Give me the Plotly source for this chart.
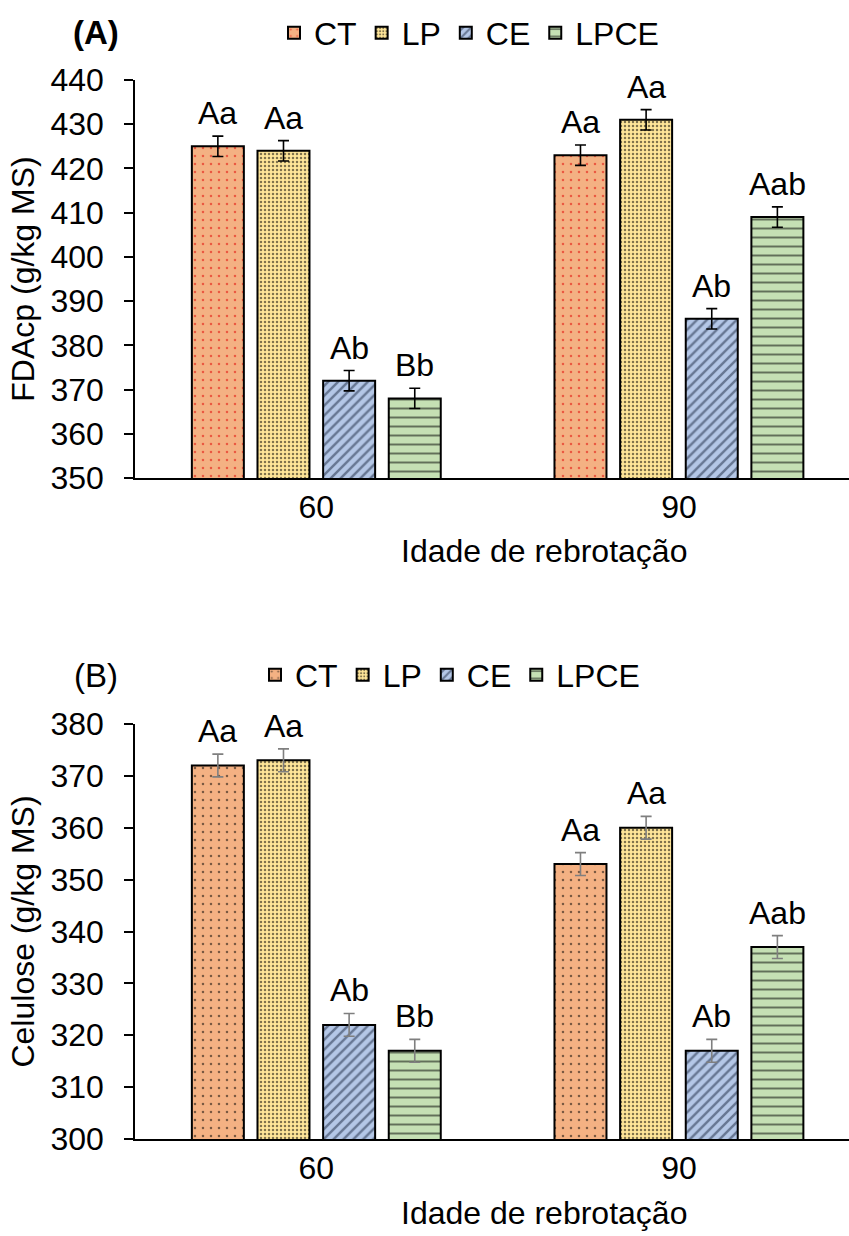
import plotly.graph_objects as go

# ---------------- data ----------------
groups = ["60", "90"]
series = ["CT", "LP", "CE", "LPCE"]

fda_values = {
    "CT": [425, 423],
    "LP": [424, 431],
    "CE": [372, 386],
    "LPCE": [368, 409],
}
fda_err = [2.3, 2.3]
fda_labels = {
    "CT": ["Aa", "Aa"],
    "LP": ["Aa", "Aa"],
    "CE": ["Ab", "Ab"],
    "LPCE": ["Bb", "Aab"],
}

cel_values = {
    "CT": [372, 353],
    "LP": [373, 360],
    "CE": [322, 317],
    "LPCE": [317, 337],
}
cel_err = [2.2, 2.2]
cel_labels = {
    "CT": ["Aa", "Aa"],
    "LP": ["Aa", "Aa"],
    "CE": ["Ab", "Ab"],
    "LPCE": ["Bb", "Aab"],
}

x_title = "Idade de rebrotação"
y_title_a = "FDAcp (g/kg MS)"
y_title_b = "Celulose (g/kg MS)"

# ---------------- styles ----------------
FONT = "Liberation Sans, Arial, sans-serif"
FS = 32
bg = {"CT": "#F4B183", "LP": "#FFE699", "CE": "#B4C7E7", "LPCE": "#C5E0B4"}
shape = {"CT": ".", "LP": ".", "CE": "/", "LPCE": "-"}
psize = {"CT": 8, "LP": 4, "CE": 7, "LPCE": 9}
psol = {"CT": 0.08, "LP": 0.3, "CE": 0.35, "LPCE": 0.22}
offsets = {"CT": -0.2715, "LP": -0.0905, "CE": 0.0905, "LPCE": 0.2715}
bar_w = 0.1434

fig = go.Figure()
annotations = []


def add_panel(values, err, labels, xa, ya, legend, dotcolor, errcolor):
    for s in series:
        xs = [i + offsets[s] for i in range(len(groups))]
        fg = dotcolor if s == "CT" else ("#1A2740" if s == "CE" else "black")
        fig.add_trace(go.Bar(
            x=xs, y=values[s], width=bar_w, name=s,
            xaxis=xa, yaxis=ya, legend=legend,
            marker=dict(color=bg[s],
                        line=dict(color="black", width=2),
                        pattern=dict(shape=shape[s], fgcolor=fg, bgcolor=bg[s],
                                     size=psize[s], solidity=psol[s], fillmode="overlay")),
            error_y=dict(type="data", array=[err[i] for i in range(len(groups))],
                         color=errcolor, thickness=1.6, width=5.5),
        ))
        for i in range(len(groups)):
            annotations.append(dict(
                x=xs[i], y=values[s][i] + err[i], xref=xa, yref=ya,
                text=labels[s][i], showarrow=False, xanchor="center", yanchor="bottom",
                yshift=3, font=dict(size=FS, family=FONT, color="black")))


add_panel(fda_values, fda_err, fda_labels, "x", "y", "legend", "#E00000", "black")
add_panel(cel_values, cel_err, cel_labels, "x2", "y2", "legend2", "black", "#7F7F7F")

W, H = 849, 1236
xdom = [135 / W, 1.0]
top_dom = [1 - 478 / H, 1 - 80 / H]
bot_dom = [1 - 1139 / H, 1 - 724 / H]

xcommon = dict(range=[-0.5, 1.469], tickvals=[0, 1], ticktext=groups,
               showline=True, linecolor="black", linewidth=2, ticks="",
               showgrid=False, zeroline=False, automargin=False,
               tickfont=dict(size=FS, family=FONT, color="black"))
ycommon = dict(dtick=10, showline=True, linecolor="black", linewidth=1.5,
               ticks="outside", ticklen=9, tickwidth=1.5, tickcolor="black",
               showgrid=False, zeroline=False, ticklabelstandoff=14, automargin=False,
               tickfont=dict(size=FS, family=FONT, color="black"))

# x-axis titles (centered as in the original, whose plot area extended past the crop)
annotations += [
    dict(text=x_title, x=544 / W, y=1 - 551 / H, xref="paper", yref="paper",
         showarrow=False, font=dict(size=FS, family=FONT), xanchor="center", yanchor="middle"),
    dict(text=x_title, x=544 / W, y=1 - 1213 / H, xref="paper", yref="paper",
         showarrow=False, font=dict(size=FS, family=FONT), xanchor="center", yanchor="middle"),
    dict(text="<b>(A)</b>", x=96 / W, y=1 - 33 / H, xref="paper", yref="paper",
         showarrow=False, font=dict(size=33, family=FONT), xanchor="center", yanchor="middle"),
    dict(text="(B)", x=96 / W, y=1 - 675 / H, xref="paper", yref="paper",
         showarrow=False, font=dict(size=33, family=FONT), xanchor="center", yanchor="middle"),
]

fig.update_layout(
    template="none",
    width=W, height=H,
    margin=dict(l=0, r=0, t=0, b=0, autoexpand=False),
    paper_bgcolor="white", plot_bgcolor="white",
    barmode="overlay",
    font=dict(family=FONT, size=FS, color="black"),
    xaxis=dict(domain=xdom, anchor="y", **xcommon),
    yaxis=dict(domain=top_dom, anchor="x", range=[350, 440],
               title=dict(text=y_title_a, font=dict(size=FS), standoff=6),
               **ycommon),
    xaxis2=dict(domain=xdom, anchor="y2", **xcommon),
    yaxis2=dict(domain=bot_dom, anchor="x2", range=[300, 380],
                title=dict(text=y_title_b, font=dict(size=FS), standoff=6),
                **ycommon),
    legend=dict(orientation="h", x=469 / W, xanchor="center", y=1 - 33 / H, yanchor="middle",
                font=dict(size=FS, family=FONT), itemwidth=30, tracegroupgap=0,
                bgcolor="rgba(0,0,0,0)"),
    legend2=dict(orientation="h", x=450 / W, xanchor="center", y=1 - 675 / H, yanchor="middle",
                 font=dict(size=FS, family=FONT), itemwidth=30, tracegroupgap=0,
                 bgcolor="rgba(0,0,0,0)"),
    annotations=annotations,
)

fig.write_html("out.html")
